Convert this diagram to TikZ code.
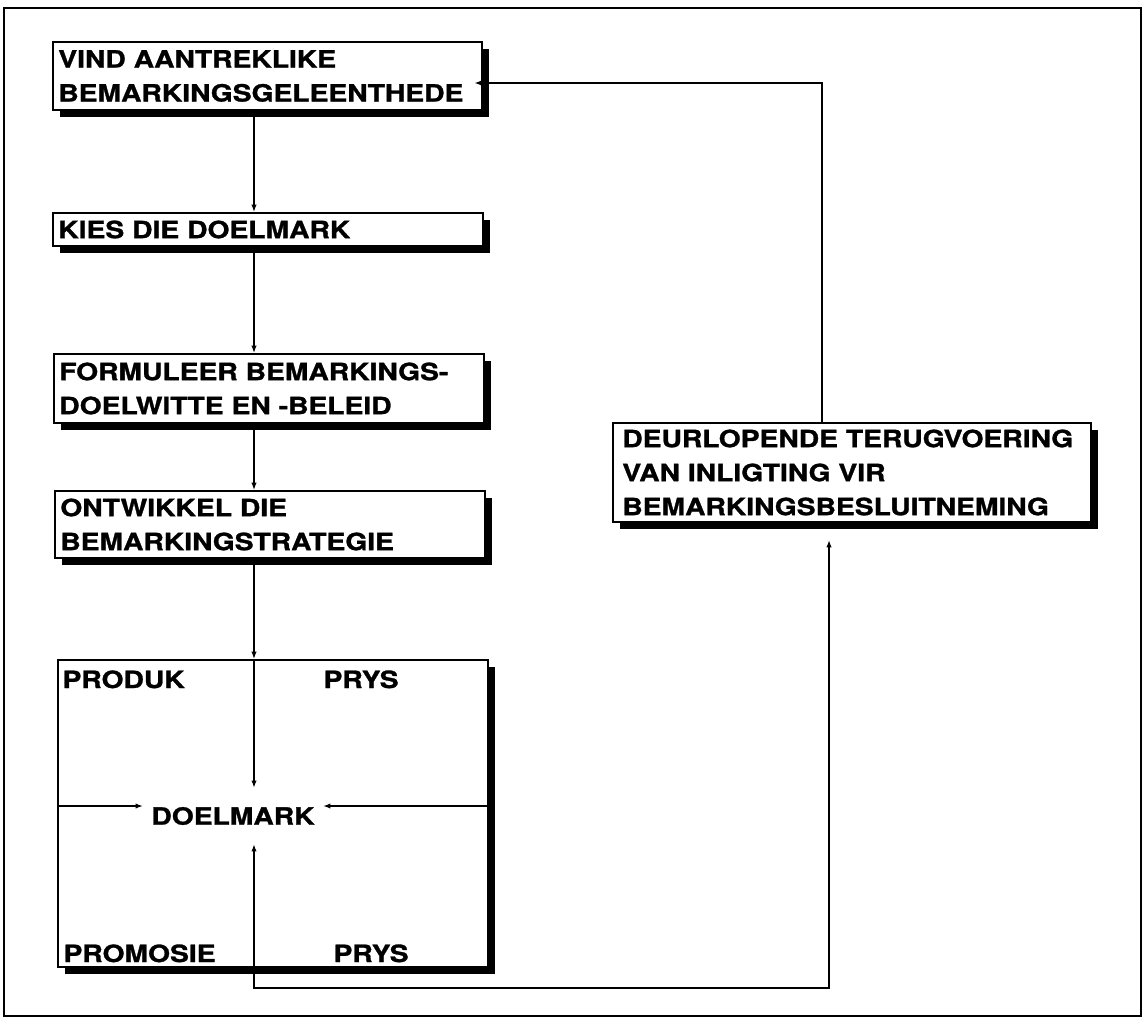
\documentclass[tikz,border=0pt]{standalone}
\usepackage{fontspec}
\setmainfont{TeX Gyre Heros}[FakeStretch=1.19, BoldFeatures={FakeBold=1.2}]
\usetikzlibrary{arrows.meta,shadows}

\tikzset{every picture/.style={line width=0.75pt}}
\tikzset{
  stepbox/.style={draw, line width=1.5pt, fill=white, anchor=north west, align=left,
    inner xsep=4pt, inner ysep=0pt,
    drop shadow={shadow xshift=5pt, shadow yshift=-5pt, fill=black, opacity=1}},
  link/.style={line width=1pt, -{Latex[length=5.5pt,width=4pt]}},
  lbl/.style={anchor=base west, inner sep=0pt},
}

\begin{document}
\begin{tikzpicture}[x=0.75pt,y=0.75pt,yscale=-1,xscale=1,font=\fontsize{17.8}{25.5}\selectfont\bfseries]
\useasboundingbox (0,0) rectangle (1144,1021);

%Outer frame
\draw [line width=1.5pt] (4,8) rectangle (1141,1016);

% Step boxes
\node (vind) [stepbox, text width=313.75pt, minimum height=51pt] at (52,41) {VIND AANTREKLIKE\\BEMARKINGSGELEENTHEDE};
\node (kies) [stepbox, text width=314.5pt, minimum height=24.75pt] at (52,212) {KIES DIE DOELMARK};
\node (form) [stepbox, text width=314.5pt, minimum height=51.75pt] at (53,353) {FORMULEER BEMARKINGS-\\DOELWITTE EN -BELEID};
\node (ontw) [stepbox, text width=314.5pt, minimum height=50.25pt] at (54,490) {ONTWIKKEL DIE\\BEMARKINGSTRATEGIE};
\node (mix) [stepbox, minimum width=322.5pt, minimum height=230.25pt] at (57,659) {};
\node (terug) [stepbox, inner xsep=7pt, text width=344.5pt, minimum height=74.25pt] at (612,422) {DEURLOPENDE TERUGVOERING\\VAN INLIGTING VIR\\BEMARKINGSBESLUITNEMING};

% Text Node
\node (produk) [lbl] at (62,688) {PRODUK};
\node (prys) [lbl] at (323,688) {PRYS};
\node (promosie) [lbl] at (63,962) {PROMOSIE};
\node (plek) [lbl] at (333,962) {PRYS};
\node (doel) [inner xsep=6pt, inner ysep=14pt] at (233,816) {DOELMARK};

\coordinate (spine) at (254,0);
\coordinate (mid) at (0,806);
\coordinate (loop) at (829,988);
\coordinate (back) at (822,83);

%Straight Lines
\draw [link] (vind.south -| spine) -- (kies.north -| spine);
\draw [link] (kies.south -| spine) -- (form.north -| spine);
\draw [link] (form.south -| spine) -- (ontw.north -| spine);
\draw [link] (ontw.south -| spine) -- (mix.north -| spine);
\draw [link] (mix.north -| spine) -- (doel.north -| spine);
\draw [link] (mix.west |- mid) -- (doel.west |- mid);
\draw [link] (mix.east |- mid) -- (doel.east |- mid);
%Feedback loop
\draw [link, {Latex[length=5.5pt,width=4pt]}-{Latex[length=5.5pt,width=4pt]}, shorten >=12.75pt] (doel.south -| spine) |- (loop) -- (terug.south -| loop);
\draw [link, shorten >=-6.5pt] (terug.north -| back) -- (back) -- (back -| vind.east);

\end{tikzpicture}
\end{document}
